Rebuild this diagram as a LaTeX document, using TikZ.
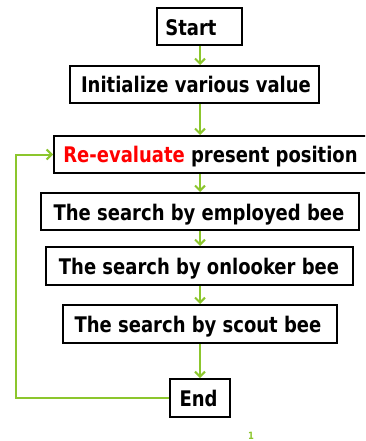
\documentclass[tikz,border=0pt]{standalone}
\usepackage{fontspec}
\setmainfont{DejaVu Sans Condensed}[FakeStretch=0.93]
\usetikzlibrary{arrows.meta}
\definecolor{flowgreen}{RGB}{140,198,45}
\begin{document}
\begin{tikzpicture}[x=1pt,y=-1pt,
  bx/.style={draw=black, line width=2pt, inner sep=0pt, fill=white},
  txt/.style={anchor=base, inner sep=0pt, font=\fontsize{21.5}{25}\selectfont\bfseries},
  flow/.style={draw=flowgreen, line width=2pt, -{Straight Barb[length=5pt,width=10pt,line width=2pt]}},
  ]
\useasboundingbox (0,0) rectangle (365,441);
\clip (0,0) rectangle (365,441);
\fill[white] (0,0) rectangle (365,441);
% boxes
\node[bx, minimum width=85pt, minimum height=37pt]  (start) at (199.5,26.5) {};
\node[bx, minimum width=249pt, minimum height=37pt] (init)  at (194.5,84.5) {};
\node[bx, minimum width=316pt, minimum height=37pt] (reev)  at (212,154.5) {};
\node[bx, minimum width=318pt, minimum height=37pt] (emp)   at (200,211.5) {};
\node[bx, minimum width=307pt, minimum height=38pt] (onl)   at (199.5,266) {};
\node[bx, minimum width=274pt, minimum height=38pt] (sct)   at (200,324) {};
\node[bx, minimum width=60pt, minimum height=38pt]  (fin)   at (200,398) {};
% texts
\node[txt] (startT) at (191,35.5) {Start};
\node[txt] (initT)  at (196,93) {Initialize various value};
\node[txt] (reevT)  at (210.5,162.5) {\textcolor{red}{Re-evaluate} present position};
\node[txt] (empT)   at (199,220) {The search by employed bee};
\node[txt] (onlT)   at (199,274) {The search by onlooker bee};
\node[txt] (sctT)   at (198,332) {The search by scout bee};
\node[txt] (finT)   at (198.5,406.5) {End};
\node[anchor=base, inner sep=0pt, text=flowgreen, font=\fontsize{10}{12}\selectfont\bfseries] (pg) at (251,439) {1};
% connectors
\coordinate (axis) at (200,0);
\coordinate (loop) at (16,0);
\draw[flow] (start.south -| axis) -- (init.north -| axis);
\draw[flow] (init.south -| axis) -- (reev.north -| axis);
\draw[flow] (reev.south -| axis) -- (emp.north -| axis);
\draw[flow] (emp.south -| axis) -- (onl.north -| axis);
\draw[flow] (onl.south -| axis) -- (sct.north -| axis);
\draw[flow] (sct.south -| axis) -- (fin.north -| axis);
\draw[flow] (fin.west) -- (fin.west -| loop) |- (reev.west);
\end{tikzpicture}
\end{document}
